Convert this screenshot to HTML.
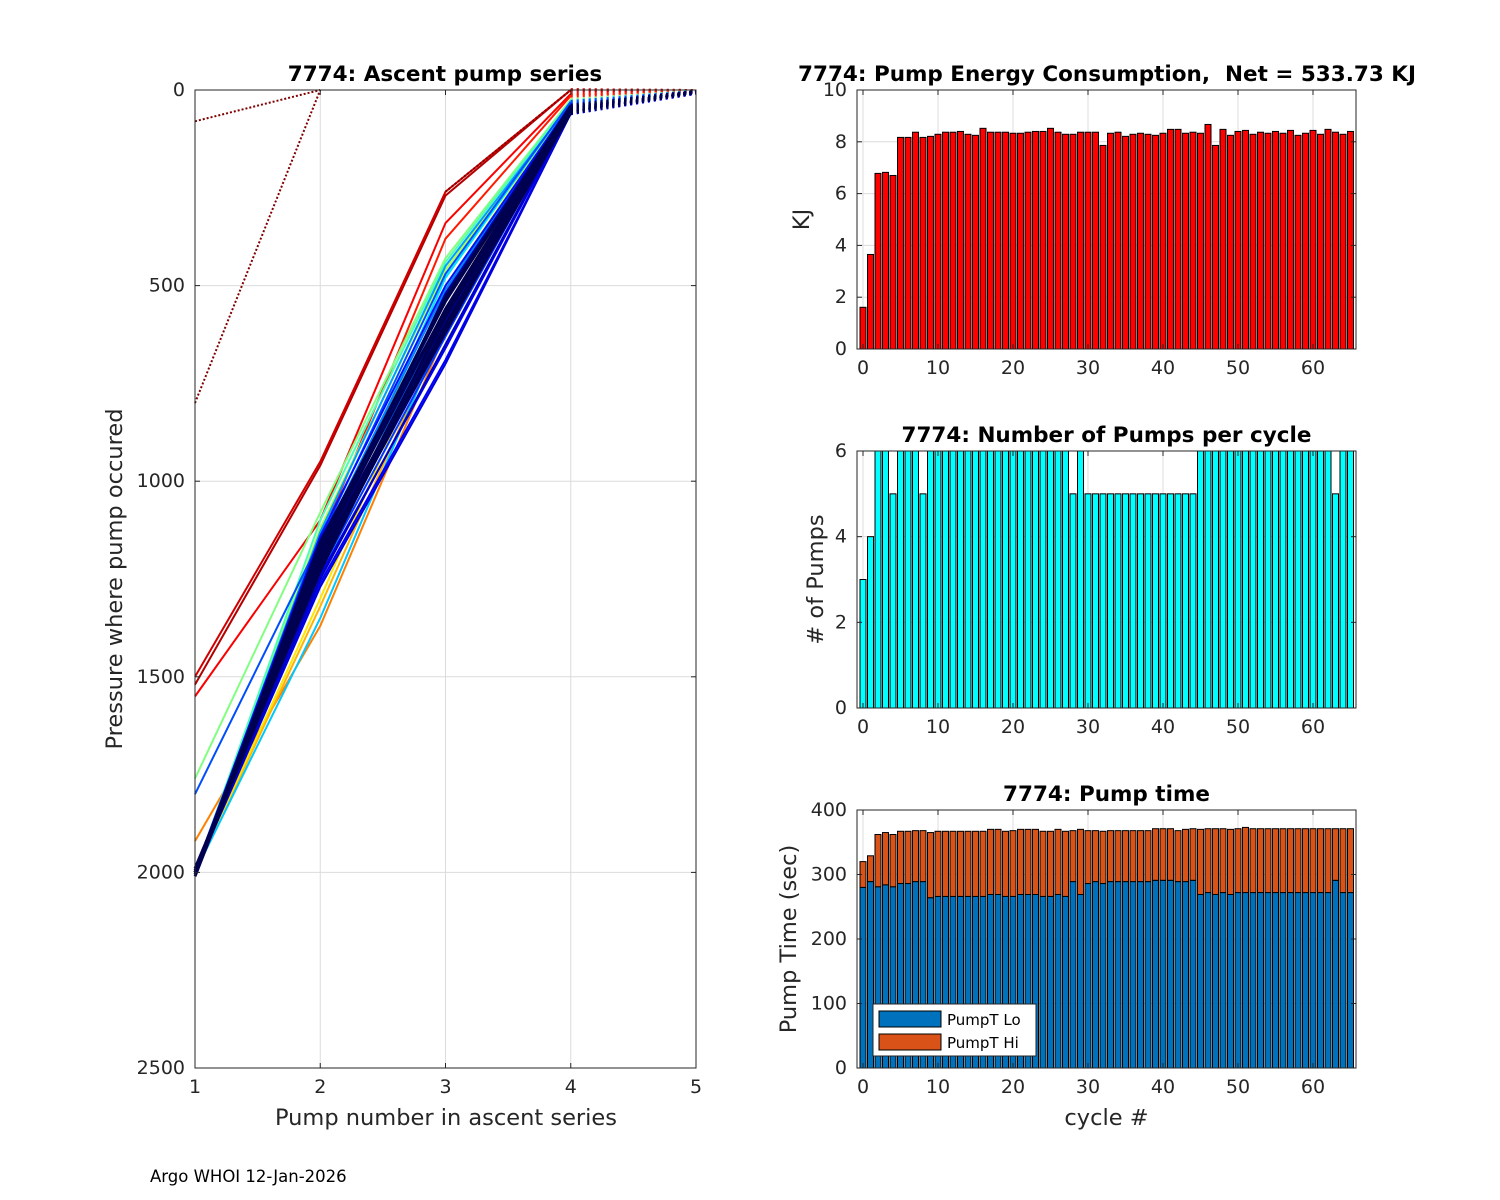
<!DOCTYPE html>
<html><head><meta charset="utf-8"><style>
body{margin:0;background:#fff;}
svg{display:block;font-family:"DejaVu Sans","Liberation Sans",sans-serif;}
text{white-space:pre;}
</style></head><body>
<svg id="fig" width="1500" height="1200" viewBox="0 0 1500 1200" xmlns="http://www.w3.org/2000/svg">
<rect width="1500" height="1200" fill="#fff"/>
<g id="left"></g>
<g id="energy"></g>
<g id="pumps"></g>
<g id="ptime"></g>
<text x="150" y="1182" font-size="16.5" fill="#000">Argo WHOI 12-Jan-2026</text>
</svg>
<script>
// ---- Data: ascent pump series (pressure at pump 1..5), colour position t (jet; negative = extra dark navy)
const profT = [0.00,0.02,0.04,0.06,0.08,0.10,0.12,0.14,0.16,0.18,0.20,0.22,0.25,0.28,0.32,0.35,0.40,0.45,0.50,0.55,0.60,0.65,0.70,0.75,0.80,0.85,0.88,0.92,0.95,0.03,0.07,0.11,0.05,0.09,-0.1,-0.1,-0.1,-0.1,-0.1,-0.1,-0.1,-0.1];
const profP1 = [2000,2010,1990,2000,2005,2000,2000,1995,2000,2000,1800,2000,2000,2000,2000,2000,2000,2000,1760,2000,2000,2000,2000,1920,2000,2000,1550,1500,1520,2000,2000,2000,2000,2000,2000,2005,1995,2000,2010,2000,1990,2000];
const profP2 = [1150,1180,1200,1250,1220,1170,1260,1140,1190,1230,1150,1210,1160,1130,1350,1200,1250,1100,1080,1120,1180,1300,1320,1370,1250,1150,1100,950,960,1190,1210,1240,1160,1270,1160,1180,1200,1220,1190,1170,1230,1210];
const profP3 = [560,600,520,650,580,540,690,500,610,630,470,560,510,450,600,480,520,440,430,460,500,560,600,620,520,380,340,260,270,590,620,660,540,700,540,560,580,600,620,530,570,610];
const profP4 = [45,50,40,55,48,42,60,38,52,50,30,44,40,35,40,30,35,28,25,30,30,35,30,30,25,15,10,0,0,50,55,58,46,60,40,45,50,55,42,48,52,58];
const profP5 = [5,6,5,8,6,5,7,4,6,5,5,5,4,5,5,4,5,4,4,4,4,4,4,4,4,3,3,2,2,6,7,7,5,8,4,5,6,5,4,6,5,6];
const dotP1 = [80,800];
const dotP2 = [0,0];
const pumpXTicks = [1,2,3,4,5];
const pressTicks = [0,500,1000,1500,2000,2500];
// ---- Data: per-cycle bars
const energyKJ = [1.61,3.65,6.78,6.82,6.7,8.17,8.17,8.37,8.17,8.21,8.29,8.37,8.37,8.4,8.29,8.25,8.52,8.37,8.37,8.37,8.33,8.33,8.37,8.4,8.4,8.52,8.37,8.29,8.29,8.37,8.37,8.37,7.86,8.33,8.37,8.21,8.29,8.33,8.29,8.25,8.33,8.48,8.48,8.33,8.37,8.33,8.67,7.86,8.48,8.25,8.4,8.44,8.29,8.37,8.33,8.4,8.33,8.44,8.25,8.33,8.44,8.29,8.48,8.37,8.29,8.4];
const pumpCount = [3,4,6,6,5,6,6,6,5,6,6,6,6,6,6,6,6,6,6,6,6,6,6,6,6,6,6,6,5,6,5,5,5,5,5,5,5,5,5,5,5,5,5,5,5,6,6,6,6,6,6,6,6,6,6,6,6,6,6,6,6,6,6,5,6,6];
const pumpTotal = [320,329,362,365,362,367,367,368,368,365,367,367,367,367,367,367,367,370,370,367,368,370,370,370,367,367,370,367,368,370,368,368,367,368,368,368,368,368,368,371,371,371,368,370,371,370,371,371,371,370,371,373,371,371,371,371,371,371,371,371,371,371,371,371,371,371];
const pumpLo = [280,289,281,284,281,286,286,289,289,264,266,266,266,266,266,266,266,269,269,266,266,269,269,269,266,266,269,266,289,269,286,289,286,289,289,289,289,289,289,291,291,291,289,289,291,269,272,269,272,269,272,272,272,272,272,272,272,272,272,272,272,272,272,291,272,272];
const cycleTicks = [0,10,20,30,40,50,60];
const energyTicks = [0,2,4,6,8,10];
const pumpTicks = [0,2,4,6];
const timeTicks = [0,100,200,300,400];

const NS='http://www.w3.org/2000/svg';
function mk(parent,tag,attrs){const e=document.createElementNS(NS,tag);for(const k in attrs)e.setAttribute(k,attrs[k]);parent.appendChild(e);return e;}
function jet(t){
  if(t<0) return '#000050';
  const r=Math.min(Math.max(Math.min(4*t-1.5,-4*t+4.5),0),1);
  const g=Math.min(Math.max(Math.min(4*t-0.5,-4*t+3.5),0),1);
  const b=Math.min(Math.max(Math.min(4*t+0.5,-4*t+2.5),0),1);
  return `rgb(${Math.round(r*255)},${Math.round(g*255)},${Math.round(b*255)})`;
}
const TC='#262626';
const TICKF=19, LABF=22.5, TITF=21.5;

// ---------- left chart ----------
(function(){
  const g=document.getElementById('left');
  const L=195,R=696,T=90,B=1068;
  const sx=v=>L+(v-1)*(R-L)/4, sy=p=>T+p*(B-T)/2500;
  for(const v of pumpXTicks){const l=mk(g,'line',{x1:sx(v),x2:sx(v),y1:T,y2:B,stroke:'#dcdcdc','stroke-width':1});
    
    }
  for(const p of pressTicks){const l=mk(g,'line',{x1:L,x2:R,y1:sy(p),y2:sy(p),stroke:'#dcdcdc','stroke-width':1});
    
    }
  for(let i=0;i<dotP1.length;i++){
    const l=mk(g,'polyline',{points:`${sx(1)},${sy(dotP1[i])} ${sx(2)},${sy(dotP2[i])}`,fill:'none',stroke:'#800000','stroke-width':2,'stroke-dasharray':'2 2'});
    
    
  }
  const order=profT.map((t,i)=>i).sort((a,b)=>{const ta=profT[a]<0?0.05:profT[a],tb=profT[b]<0?0.05:profT[b];return (profT[a]<0)-(profT[b]<0)||tb-ta;});
  for(const i of order){
    const c=jet(profT[i]);
    const pts=[profP1[i],profP2[i],profP3[i],profP4[i]].map((p,k)=>`${sx(k+1)},${sy(p)}`).join(' ');
    const l=mk(g,'polyline',{points:pts,fill:'none',stroke:c,'stroke-width':profT[i]<0?3:2});
    
    
    const d=mk(g,'line',{x1:sx(4),y1:sy(profP4[i]),x2:sx(5),y2:sy(profP5[i]),stroke:c,'stroke-width':3.5,'stroke-dasharray':'2 4'});
    
    
  }
  const dd=mk(g,'line',{x1:sx(3),y1:sy(260),x2:sx(4),y2:sy(0),stroke:'#800000','stroke-width':2,'stroke-dasharray':'2 2'});
  
  
  mk(g,'rect',{x:L,y:T,width:R-L,height:B-T,fill:'none',stroke:TC,'stroke-width':1});
  for(const v of pumpXTicks){
    mk(g,'line',{x1:sx(v),x2:sx(v),y1:B,y2:B-5,stroke:TC});mk(g,'line',{x1:sx(v),x2:sx(v),y1:T,y2:T+5,stroke:TC});
    const t=mk(g,'text',{x:sx(v),y:B+25,'text-anchor':'middle','font-size':TICKF,fill:TC});t.textContent=v;
    
    
  }
  for(const p of pressTicks){
    mk(g,'line',{x1:L,x2:L+5,y1:sy(p),y2:sy(p),stroke:TC});mk(g,'line',{x1:R,x2:R-5,y1:sy(p),y2:sy(p),stroke:TC});
    const t=mk(g,'text',{x:L-10,y:sy(p)+6,'text-anchor':'end','font-size':TICKF,fill:TC});t.textContent=p;
    
    
  }
  let t=mk(g,'text',{x:445,y:81,'text-anchor':'middle','font-size':TITF,'font-weight':'bold',fill:'#000'});t.textContent='7774: Ascent pump series';
  
  
  t=mk(g,'text',{x:446,y:1125,'text-anchor':'middle','font-size':LABF,fill:TC});t.textContent='Pump number in ascent series';
  
  
  t=mk(g,'text',{x:0,y:0,'text-anchor':'middle','font-size':LABF,fill:TC,transform:'translate(122,579) rotate(-90)'});t.textContent='Pressure where pump occured';
  
  
})();

// ---------- right bar charts ----------
function barAxes(id,T,B,ymax,yticks,title,ylabel,ylx,xlabel){
  const g=document.getElementById(id);
  const L=857,R=1356;
  const sx=v=>863+7.5*v, sy=v=>B-(v/ymax)*(B-T);
  for(const v of cycleTicks){const l=mk(g,'line',{x1:sx(v),x2:sx(v),y1:T,y2:B,stroke:'#dcdcdc'});
    
    }
  for(const v of yticks){const l=mk(g,'line',{x1:L,x2:R,y1:sy(v),y2:sy(v),stroke:'#dcdcdc'});
    
    }
  return {g,L,R,sx,sy,finish(tx){
    mk(g,'rect',{x:L,y:T,width:R-L,height:B-T,fill:'none',stroke:TC});
    for(const v of cycleTicks){
      mk(g,'line',{x1:sx(v),x2:sx(v),y1:B,y2:B-5,stroke:TC});mk(g,'line',{x1:sx(v),x2:sx(v),y1:T,y2:T+5,stroke:TC});
      const t=mk(g,'text',{x:sx(v),y:B+25,'text-anchor':'middle','font-size':TICKF,fill:TC});t.textContent=v;
      
      
    }
    for(const v of yticks){
      mk(g,'line',{x1:L,x2:L+5,y1:sy(v),y2:sy(v),stroke:TC});mk(g,'line',{x1:R,x2:R-5,y1:sy(v),y2:sy(v),stroke:TC});
      const t=mk(g,'text',{x:L-10,y:sy(v)+6,'text-anchor':'end','font-size':TICKF,fill:TC});t.textContent=v;
      
      
    }
    let t=mk(g,'text',{x:tx||(L+R)/2,y:T-9,'text-anchor':'middle','font-size':TITF,'font-weight':'bold',fill:'#000'});t.textContent=title;
    
    
    t=mk(g,'text',{x:0,y:0,'text-anchor':'middle','font-size':LABF,fill:TC,transform:`translate(${ylx},${(T+B)/2}) rotate(-90)`});t.textContent=ylabel;
    
    
    if(xlabel){t=mk(g,'text',{x:(L+R)/2,y:B+57,'text-anchor':'middle','font-size':LABF,fill:TC});t.textContent=xlabel;
      
      }
  }};
}
const BW=6;
(function(){
  const a=barAxes('energy',90,349,10,energyTicks,'7774: Pump Energy Consumption,  Net = 533.73 KJ','KJ',809,null);
  energyKJ.forEach((v,i)=>{const r=mk(a.g,'rect',{x:a.sx(i)-BW/2,y:a.sy(v),width:BW,height:a.sy(0)-a.sy(v),fill:'#ff0000',stroke:'#000','stroke-width':1});
    
    });
  a.finish(1107);
})();
(function(){
  const a=barAxes('pumps',451,708,6,pumpTicks,'7774: Number of Pumps per cycle','# of Pumps',823,null);
  pumpCount.forEach((v,i)=>{const r=mk(a.g,'rect',{x:a.sx(i)-BW/2,y:a.sy(v),width:BW,height:a.sy(0)-a.sy(v),fill:'#00ffff',stroke:'#000','stroke-width':1});
    
    });
  a.finish();
})();
(function(){
  const a=barAxes('ptime',810,1068,400,timeTicks,'7774: Pump time','Pump Time (sec)',796,'cycle #');
  pumpTotal.forEach((v,i)=>{
    const lo=pumpLo[i];
    const r1=mk(a.g,'rect',{x:a.sx(i)-BW/2,y:a.sy(lo),width:BW,height:a.sy(0)-a.sy(lo),fill:'#0072bd',stroke:'#000','stroke-width':1});
    
    
    const r2=mk(a.g,'rect',{x:a.sx(i)-BW/2,y:a.sy(v),width:BW,height:a.sy(lo)-a.sy(v),fill:'#d95319',stroke:'#000','stroke-width':1});
    
    
  });
  a.finish();
  const lg=mk(a.g,'g',{});
  
  
  mk(lg,'rect',{x:873,y:1004,width:163,height:52,fill:'#fff',stroke:TC});
  mk(lg,'rect',{x:879,y:1011,width:62,height:16,fill:'#0072bd',stroke:'#000'});
  mk(lg,'rect',{x:879,y:1034,width:62,height:16,fill:'#d95319',stroke:'#000'});
  let t=mk(lg,'text',{x:947,y:1025,'font-size':15,fill:'#000'});t.textContent='PumpT Lo';
  
  
  t=mk(lg,'text',{x:947,y:1048,'font-size':15,fill:'#000'});t.textContent='PumpT Hi';
  
  
})();
</script>
</body></html>
